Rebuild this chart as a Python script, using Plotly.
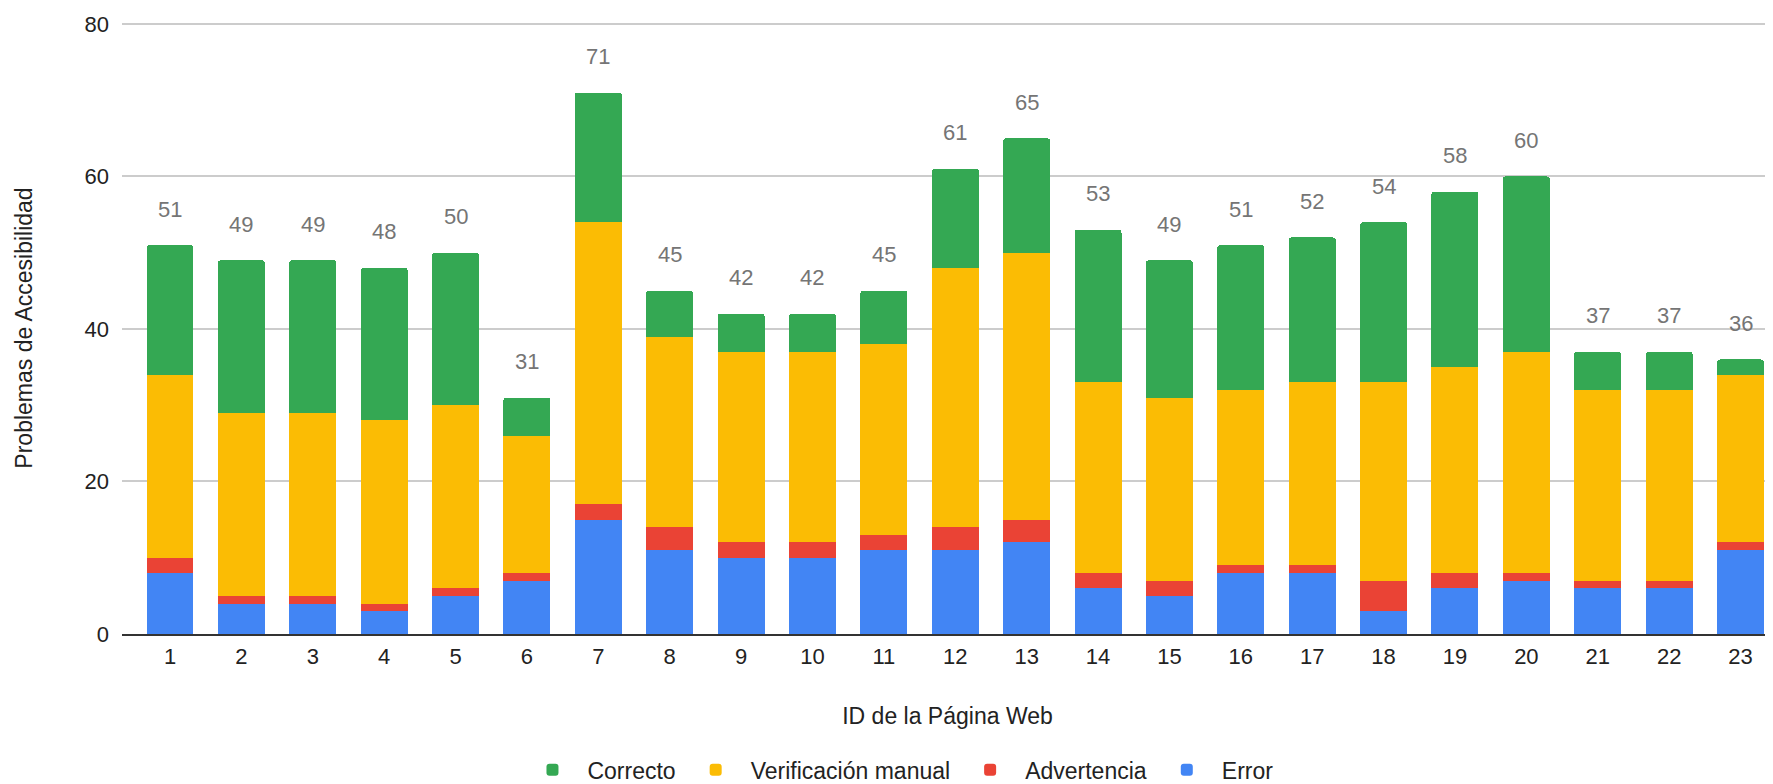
import plotly.graph_objects as go

# ---- data ----
pages = list(range(1, 24))
error = [8, 4, 4, 3, 5, 7, 15, 11, 10, 10, 11, 11, 12, 6, 5, 8, 8, 3, 6, 7, 6, 6, 11]
advertencia = [2, 1, 1, 1, 1, 1, 2, 3, 2, 2, 2, 3, 3, 2, 2, 1, 1, 4, 2, 1, 1, 1, 1]
verificacion = [24, 24, 24, 24, 24, 18, 37, 25, 25, 25, 25, 34, 35, 25, 24, 23, 24, 26, 27, 29, 25, 25, 22]
correcto = [17, 20, 20, 20, 20, 5, 17, 6, 5, 5, 7, 13, 15, 20, 18, 19, 19, 21, 23, 23, 5, 5, 2]
y_ticks = [0, 20, 40, 60, 80]

totals = [e + a + v + c for e, a, v, c in zip(error, advertencia, verificacion, correcto)]

FONT = "Arial, Liberation Sans, sans-serif"
W = 0.658

fig = go.Figure()
series = [
    ("Error", error, "#4285F4"),
    ("Advertencia", advertencia, "#EA4335"),
    ("Verificación manual", verificacion, "#FBBC04"),
    ("Correcto", correcto, "#34A853"),
]
for name, vals, col in series:
    fig.add_trace(go.Bar(
        x=pages, y=vals, name=name, width=W,
        marker=dict(color=col, line=dict(width=0)),
    ))

for p, t in zip(pages, totals):
    fig.add_annotation(
        x=p, y=t, text=str(t), showarrow=False,
        yanchor="middle", yshift=36,
        font=dict(family=FONT, size=22, color="#757575"),
    )

# page body has an 8px default margin, so the figure is 8px smaller
fig.update_layout(
    template="none",
    width=1765, height=776,
    margin=dict(l=114, r=0, t=14, b=150, autoexpand=False),
    paper_bgcolor="white", plot_bgcolor="white",
    barmode="stack", barcornerradius=3,
    font=dict(family=FONT, size=22, color="#222222"),
    legend=dict(
        orientation="h", traceorder="reversed",
        x=0.47, xanchor="center", y=-0.222, yanchor="middle",
        font=dict(family=FONT, size=23, color="#222222"),
        itemwidth=60, bgcolor="rgba(0,0,0,0)",
    ),
    showlegend=True,
)
fig.update_xaxes(
    automargin=False,
    range=[0.3276, 23.455], tickmode="array", tickvals=pages,
    ticktext=[str(p) for p in pages],
    showgrid=False, zeroline=False,
    showline=True, linecolor="#333333", linewidth=2,
    ticks="", ticklabelstandoff=2,
    tickfont=dict(family=FONT, size=22, color="#222222"),
    title=dict(text="ID de la Página Web", standoff=39,
               font=dict(family=FONT, size=23, color="#222222")),
)
fig.update_yaxes(
    automargin=False,
    range=[0, 80.25], tickmode="array", tickvals=y_ticks,
    showgrid=True, gridcolor="#cccccc", gridwidth=1.5,
    zeroline=False, showline=False, ticks="", ticklabelstandoff=12,
    tickfont=dict(family=FONT, size=22, color="#222222"),
    title=dict(text="Problemas de Accesibilidad", standoff=45,
               font=dict(family=FONT, size=23, color="#222222")),
)

fig.write_html("out.html")
